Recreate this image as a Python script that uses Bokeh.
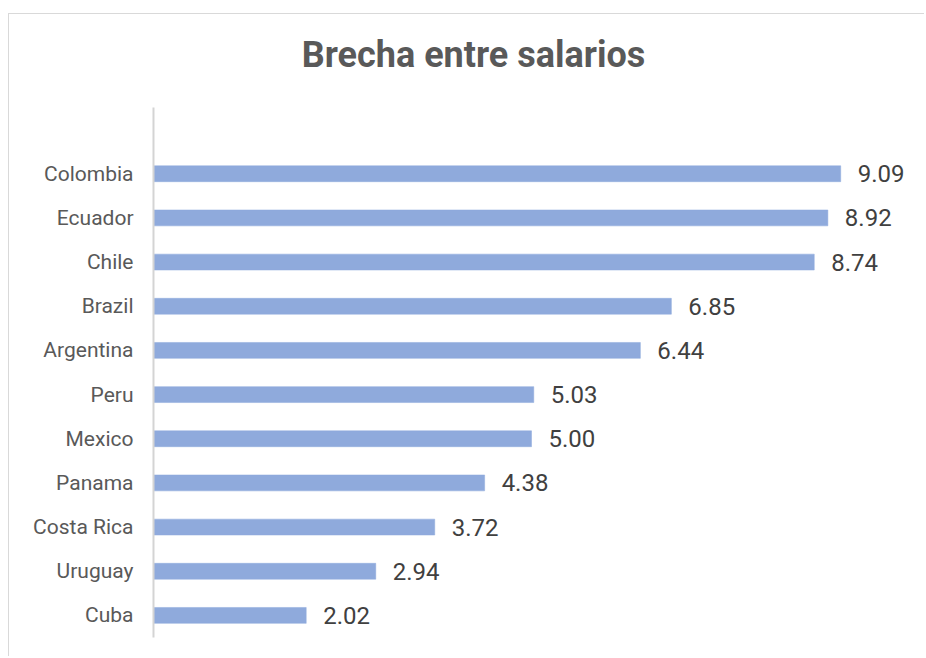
from bokeh.plotting import figure
from bokeh.models import ColumnDataSource, FixedTicker
from bokeh.core.properties import value
from bokeh.embed import file_html
from bokeh.resources import INLINE

# Data (bottom to top)
countries = ["Cuba", "Uruguay", "Costa Rica", "Panama", "Mexico", "Peru",
             "Argentina", "Brazil", "Chile", "Ecuador", "Colombia"]
gaps = [2.02, 2.94, 3.72, 4.38, 5.00, 5.03, 6.44, 6.85, 8.74, 8.92, 9.09]
title_text = "Brecha entre salarios"

FONT = "Roboto"
pos = list(range(len(countries)))
src = ColumnDataSource(dict(y=pos, v=gaps, lbl=[f"{g:.2f}" for g in gaps]))

p = figure(width=916, height=643, output_backend="svg", toolbar_location=None,
           x_range=(-0.0529, 10.2116), y_range=(-0.9528, 13.6057),
           min_border_left=140, min_border_right=0, min_border_top=0,
           min_border_bottom=0, margin=(14, 0, 0, 9),
           styles={"box-shadow": "-1px -1px 0 #d9d9d9"})
p.outline_line_color = None
p.xgrid.visible = False
p.ygrid.visible = False
p.xaxis.visible = False

ya = p.yaxis[0]
ya.ticker = FixedTicker(ticks=pos)
ya.major_label_overrides = {i: c for i, c in zip(pos, countries)}
ya.axis_line_color = None
ya.major_tick_line_color = None
ya.minor_tick_line_color = None
ya.major_tick_out = 0
ya.major_tick_in = 0
ya.major_label_standoff = 16
ya.major_label_text_font = FONT
ya.major_label_text_font_size = "21px"
ya.major_label_text_color = "#595959"

# bars
p.hbar(y="y", right="v", left=0, height=0.36, source=src,
       fill_color="#8FAADC", line_color="#8FAADC", line_width=0.5)

# axis line
p.segment(x0=[0], y0=[-0.5], x1=[0], y1=[11.5], line_color="#d4d4d4", line_width=2)

# data labels
p.text(x="v", y="y", text="lbl", source=src, x_offset=17,
       text_baseline="middle", text_align="left",
       text_font=value(FONT), text_font_size="24px", text_color="#404040")

# title
p.text(x=[4.233], y=[12.68], text=[title_text], text_align="center",
       text_baseline="middle", text_font=value(FONT), text_font_style="bold",
       text_font_size="36px", text_color="#595959")

open("out.html", "w").write(file_html(p, INLINE))
